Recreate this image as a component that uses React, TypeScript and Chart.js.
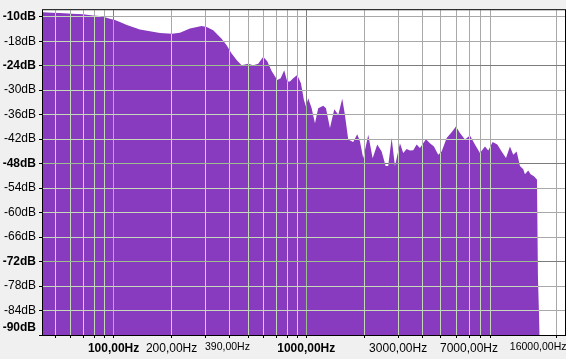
import { useEffect, useRef } from 'react';
import { Chart, registerables } from 'chart.js';

Chart.register(...registerables);

// Spectrum: frequency (Hz) and level (dB)
const frequencies = [43, 47.8, 52.6, 60.8, 69.3, 78.1, 84.9, 90.1, 95.7, 101.6, 107.8, 117.2, 136.9, 174, 200.8, 220.9, 249, 286.3, 304, 328.9, 363.7, 386.1, 409.9, 435.1, 461.9, 500, 530.7, 563.4, 598.1, 627.4, 661.3, 707, 736.4, 768.8, 796.8, 823.1, 856.1, 898.1, 938.7, 972.9, 996.4, 1024, 1067, 1110, 1154, 1226, 1266, 1328, 1398, 1467, 1538, 1588, 1652, 1754, 1840, 1900, 1977, 2099, 2212, 2337, 2463, 2584, 2665, 2776, 2888, 3066, 3189, 3321, 3454, 3594, 3743, 3894, 4183, 4388, 4603, 4845, 5047, 5358, 5687, 5988, 6281, 6668, 7079, 7514, 7977, 8468, 8810, 9286, 9811, 10340, 10890, 11420, 11880, 12370, 12870, 13390, 13660, 14210, 14620, 15210, 15770, 15960, 16150, 16350];
const levels = [-10.9, -11.0, -11.1, -11.3, -11.4, -11.7, -11.8, -12.1, -12.5, -12.8, -13.3, -14.0, -15.1, -16.0, -16.2, -15.9, -14.9, -14.3, -14.5, -15.3, -17.4, -19.0, -21.0, -22.6, -23.9, -23.5, -23.9, -23.5, -21.8, -22.9, -25.3, -27.5, -27.1, -25.1, -27.9, -27.9, -27.1, -26.3, -28.3, -32.4, -34.0, -32.0, -34.4, -38.1, -34.4, -33.8, -34.4, -39.3, -34.7, -36.0, -32.1, -36.0, -42.1, -42.7, -40.8, -42.5, -46.7, -40.9, -46.7, -43.3, -45.0, -48.6, -48.6, -41.7, -48.6, -43.0, -45.4, -44.4, -44.8, -44.7, -43.3, -44.2, -42.0, -43.0, -43.8, -45.8, -45.0, -41.7, -40.3, -38.9, -40.5, -42.1, -41.1, -43.3, -45.4, -43.8, -44.8, -42.7, -43.3, -45.0, -46.6, -43.8, -45.8, -45.0, -48.6, -49.4, -50.6, -49.7, -50.6, -51.1, -51.9, -75.9, -84.4, -95];

// Axis ranges
const xMin = 43;
const xMax = 22050;
const yMin = -90;
const yMax = -10.4;

// X axis: grid lines and labels
const xGridTicks = [50, 60, 70, 80, 90, 100, 200, 300, 400, 500, 600, 700, 800, 900, 1000, 2000, 3000, 4000, 5000, 6000, 7000, 8000, 9000, 20000];
const xMajorGrid = [100, 1000];
const xLabelTicks = [100, 200, 390, 1000, 3000, 7000, 16000];
const xTickLabels = ['100,00Hz', '200,00Hz', '390,00Hz', '1000,00Hz', '3000,00Hz', '7000,00Hz', '16000,00Hz'];
const xBoldLabels = [100, 1000];
const xSmallLabels = [390, 16000];

// Y axis: grid lines and labels
const yGridTicks = [-90, -84, -78, -72, -66, -60, -54, -48, -42, -36, -30, -24, -18, -12];
const yMajorGrid = [-72, -48, -24];
const yLabelTicks = [-88.3, -84, -78, -72, -66, -60, -54, -48, -42, -36, -30, -24, -18, -12];
const yTickLabels = ['-90dB', '-84dB', '-78dB', '-72dB', '-66dB', '-60dB', '-54dB', '-48dB', '-42dB', '-36dB', '-30dB', '-24dB', '-18dB', '-10dB'];
const yBoldLabels = [-88.3, -72, -48, -24, -12];

const FILL = 'rgb(137, 59, 191)';
const GRID_MINOR = '#a9a9a9';
const GRID_MAJOR = '#7c7c7c';
const GRID_MINOR_IN = '#c4d9ba';
const GRID_MAJOR_IN = '#9dbf90';
const FONT = '"Liberation Sans", Arial, sans-serif';
const NONE = 'rgba(0,0,0,0)';

const uniqSorted = (a: number[]) => Array.from(new Set(a)).sort((p, q) => p - q);
const alignPx = (p: number) => Math.round(p - 0.5) + 0.5;

const framePlugin = {
  id: 'spectrumFrame',
  beforeDraw(chart: any) {
    const { ctx, chartArea: a } = chart;
    ctx.save();
    ctx.fillStyle = '#ffffff';
    ctx.fillRect(a.left, a.top, a.right - a.left, a.bottom - a.top);
    ctx.restore();
  },
  afterDatasetsDraw(chart: any) {
    const { ctx, chartArea: a } = chart;
    const xs = chart.scales.x;
    const ys = chart.scales.y;
    const pts = chart.getDatasetMeta(0).data;
    if (!pts.length) return;
    ctx.save();
    ctx.beginPath();
    ctx.rect(a.left, a.top, a.right - a.left, a.bottom - a.top);
    ctx.clip();
    ctx.beginPath();
    ctx.moveTo(pts[0].x, a.bottom);
    for (const p of pts) ctx.lineTo(p.x, p.y);
    ctx.lineTo(pts[pts.length - 1].x, a.bottom);
    ctx.closePath();
    ctx.clip();
    ctx.lineWidth = 1;
    for (const v of xGridTicks) {
      const px = alignPx(xs.getPixelForValue(v));
      ctx.strokeStyle = xMajorGrid.includes(v) ? GRID_MAJOR_IN : GRID_MINOR_IN;
      ctx.beginPath();
      ctx.moveTo(px, a.top);
      ctx.lineTo(px, a.bottom);
      ctx.stroke();
    }
    for (const v of yGridTicks) {
      const py = alignPx(ys.getPixelForValue(v));
      ctx.strokeStyle = yMajorGrid.includes(v) ? GRID_MAJOR_IN : GRID_MINOR_IN;
      ctx.beginPath();
      ctx.moveTo(a.left, py);
      ctx.lineTo(a.right, py);
      ctx.stroke();
    }
    ctx.restore();
  },
  afterDraw(chart: any) {
    const { ctx, chartArea: a } = chart;
    ctx.save();
    ctx.strokeStyle = '#000000';
    ctx.lineWidth = 1;
    ctx.strokeRect(a.left - 0.5, a.top - 0.5, a.right - a.left + 1, a.bottom - a.top + 1);
    ctx.restore();
  },
};

export default function App() {
  const canvasRef = useRef<HTMLCanvasElement | null>(null);

  useEffect(() => {
    const canvas = canvasRef.current;
    if (!canvas) return;
    const xTickValues = uniqSorted([...xGridTicks, ...xLabelTicks]);
    const yTickValues = uniqSorted([...yGridTicks, ...yLabelTicks]);

    const chart = new Chart(canvas, {
      type: 'line',
      data: {
        datasets: [
          {
            data: frequencies.map((f, i) => ({ x: f, y: levels[i] })),
            backgroundColor: FILL,
            borderWidth: 0,
            borderColor: FILL,
            pointRadius: 0,
            fill: 'start',
            tension: 0,
          },
        ],
      },
      options: {
        animation: false,
        responsive: false,
        devicePixelRatio: 1,
        layout: { padding: { top: 8, right: 1, bottom: 0, left: 0 } },
        plugins: { legend: { display: false }, tooltip: { enabled: false } },
        scales: {
          x: {
            type: 'logarithmic',
            min: xMin,
            max: xMax,
            afterBuildTicks: (scale: any) => {
              scale.ticks = xTickValues.map((v) => ({ value: v }));
            },
            afterFit: (scale: any) => {
              scale.height = 24;
            },
            border: { display: false },
            grid: {
              color: (ctx: any) => {
                const v = ctx.tick?.value;
                if (!xGridTicks.includes(v)) return NONE;
                return xMajorGrid.includes(v) ? GRID_MAJOR : GRID_MINOR;
              },
              tickColor: (ctx: any) => (xGridTicks.includes(ctx.tick?.value) ? '#000000' : NONE),
              tickLength: 3,
              lineWidth: 1,
            },
            ticks: {
              autoSkip: false,
              maxRotation: 0,
              minRotation: 0,
              padding: 3,
              color: '#000000',
              callback: (value: any) => {
                const i = xLabelTicks.indexOf(Number(value));
                return i >= 0 ? xTickLabels[i] : '';
              },
              font: (ctx: any) => {
                const v = ctx.tick?.value;
                return {
                  family: FONT,
                  size: xSmallLabels.includes(v) ? 10.5 : 12,
                  weight: xBoldLabels.includes(v) ? 'bold' : 'normal',
                };
              },
            },
          },
          y: {
            type: 'linear',
            min: yMin,
            max: yMax,
            afterBuildTicks: (scale: any) => {
              scale.ticks = yTickValues.map((v) => ({ value: v }));
            },
            afterFit: (scale: any) => {
              scale.width = 43;
            },
            border: { display: false },
            grid: {
              color: (ctx: any) => {
                const v = ctx.tick?.value;
                if (!yGridTicks.includes(v)) return NONE;
                return yMajorGrid.includes(v) ? GRID_MAJOR : GRID_MINOR;
              },
              tickColor: (ctx: any) => (yGridTicks.includes(ctx.tick?.value) ? '#000000' : NONE),
              tickLength: 4,
              lineWidth: 1,
            },
            ticks: {
              autoSkip: false,
              padding: 3,
              color: '#000000',
              callback: (value: any) => {
                const i = yLabelTicks.indexOf(Number(value));
                return i >= 0 ? yTickLabels[i] : '';
              },
              font: (ctx: any) => {
                const v = ctx.tick?.value;
                return {
                  family: FONT,
                  size: 12,
                  weight: yBoldLabels.includes(v) ? 'bold' : 'normal',
                };
              },
            },
          },
        },
      },
      plugins: [framePlugin],
    } as any);

    return () => chart.destroy();
  }, []);

  return (
    <div
      style={{
        position: 'fixed',
        left: 0,
        top: 0,
        width: 566,
        height: 359,
        background: '#f0f0f0',
      }}
    >
      <canvas ref={canvasRef} width={566} height={359} style={{ display: 'block' }} />
    </div>
  );
}
